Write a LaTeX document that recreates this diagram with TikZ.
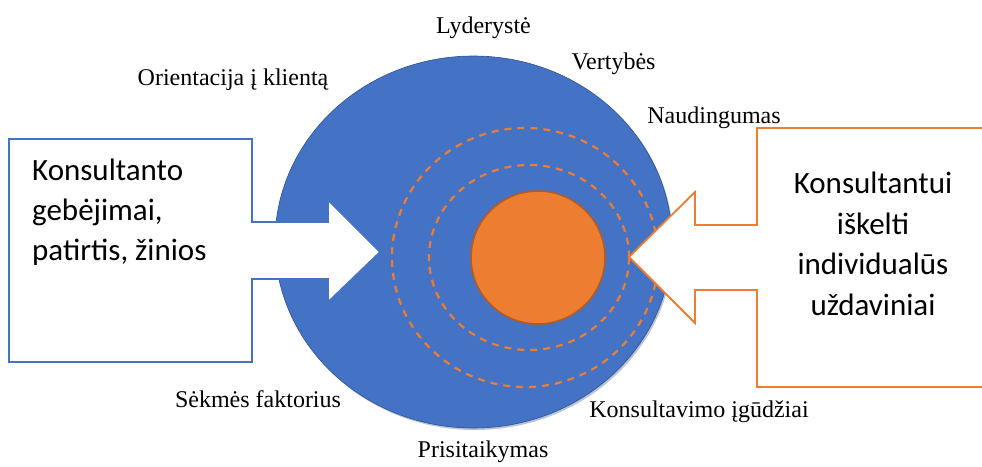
\documentclass[tikz,border=0pt]{standalone}
\usepackage{fontspec}
\setmainfont{Liberation Serif}
\newfontfamily\labelfont{Liberation Serif}
\newfontfamily\calloutfont{Carlito}
\definecolor{discblue}{HTML}{4472C4}
\definecolor{discedge}{HTML}{2F528F}
\definecolor{coreorange}{HTML}{ED7D31}
\definecolor{coreedge}{HTML}{B35C22}
\begin{document}
\begin{tikzpicture}[x=1pt,y=-1pt,
  factor/.style={font=\labelfont\fontsize{24}{28}\selectfont, inner sep=0pt, anchor=base},
  leftline/.style={font=\calloutfont\fontsize{31}{38}\selectfont, inner sep=0pt, anchor=base west},
  rightline/.style={font=\calloutfont\fontsize{31}{38}\selectfont, inner sep=0pt, anchor=base},
  ring/.style={draw=coreorange, line width=2.2pt, dash pattern=on 7pt off 6pt},
  leftcallout/.style={draw=discblue, line width=1.6pt, fill=white, line join=miter},
  rightcallout/.style={draw=coreorange, line width=1.8pt, fill=white, line join=miter}]
\useasboundingbox (0,0) rectangle (982,466);
\clip (0,0) rectangle (982,466);

% soft shadow under the disc
\fill[discedge, opacity=0.35] (475,244) ellipse (198.5 and 186);
% outer disc
\draw[fill=discblue, draw=discedge, line width=0.6pt] (473.5,242) ellipse (198.5 and 186);

% dashed rings and core
\draw[ring] (525,257.5) ellipse (133 and 129.5);
\draw[ring] (529,257.5) ellipse (100 and 92.5);
\draw[fill=coreorange, draw=coreedge, line width=1.6pt] (538,257.5) ellipse (67 and 66.5);

% left callout: box with arrow pointing right
\coordinate (ltip) at (380,252);
\draw[leftcallout] (9,139) -- (252,139) -- (252,222) -- (328,222) -- (328,200)
  -- (ltip) -- (328,302) -- (328,279) -- (252,279) -- (252,362) -- (9,362) -- cycle;

% right callout: box with arrow pointing left
\coordinate (rtip) at (629,257);
\draw[rightcallout] (995,128) -- (757,128) -- (757,225) -- (695,225) -- (695,192)
  -- (rtip) -- (695,323) -- (695,290) -- (757,290) -- (757,387) -- (995,387);
\fill[white] (759,130) rectangle (990,385);

% callout texts
\node[leftline] (l1) at (32,180) {Konsultanto};
\node[leftline] (l2) at (32,220) {gebėjimai,};
\node[leftline] (l3) at (32,260) {patirtis, žinios};
\node[rightline] (r1) at (873,193) {Konsultantui};
\node[rightline] (r2) at (873,234) {iškelti};
\node[rightline] (r3) at (873,274) {individualūs};
\node[rightline] (r4) at (873,315) {uždaviniai};

% factor labels around the disc
\node[factor] (lyd) at (483.5,33) {Lyderystė};
\node[factor] (ver) at (613.5,69) {Vertybės};
\node[factor] (ori) at (233,85) {Orientacija į klientą};
\node[factor] (nau) at (714,123) {Naudingumas};
\node[factor] (sek) at (258,407) {Sėkmės faktorius};
\node[factor] (kon) at (699,417) {Konsultavimo įgūdžiai};
\node[factor] (pri) at (483,457) {Prisitaikymas};
\end{tikzpicture}
\end{document}
